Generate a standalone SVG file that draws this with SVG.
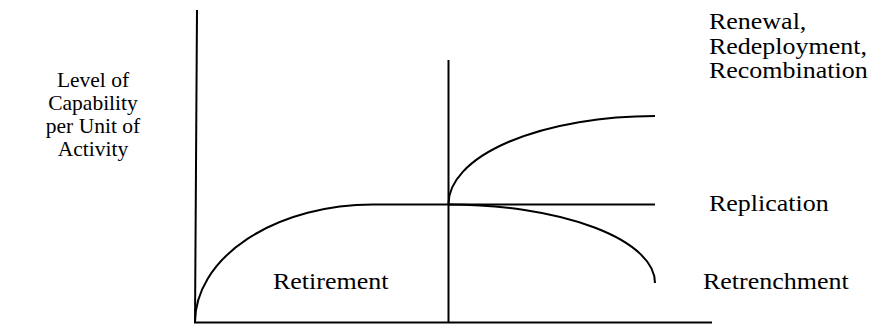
<svg xmlns="http://www.w3.org/2000/svg" width="874" height="324" viewBox="0 0 874 324">
<style>
.ln{fill:none;stroke:#000;stroke-width:2}
.t{font-family:"Liberation Serif","Times New Roman",serif;font-size:23px;fill:#000}
.s{font-size:21.5px}
.c{text-anchor:middle}
</style>
<rect width="874" height="324" fill="#fff"/>
<g id="connectors">
<line class="ln" x1="197" y1="10" x2="195" y2="323"/>
<line class="ln" x1="194" y1="322.5" x2="712" y2="322.5"/>
<line class="ln" x1="448.5" y1="60" x2="448.5" y2="323"/>
<line class="ln" x1="373" y1="204.5" x2="655" y2="204.5"/>
<path class="ln" d="M195,322 A178,118 0 0 1 373,204.5"/>
<path class="ln" d="M448.5,204 A206.5,88 0 0 1 655,116"/>
<path class="ln" d="M448.5,204.5 A206.5,78.5 0 0 1 655,283"/>
</g>
<g id="axis-label">
<text class="t s c" x="93" y="87">Level of</text>
<text class="t s c" x="93" y="110">Capability</text>
<text class="t s c" x="93" y="133">per Unit of</text>
<text class="t s c" x="93" y="156">Activity</text>
</g>
<g id="retirement" transform="scale(1.13,1)"><text class="t" x="241.6" y="289">Retirement</text></g>
<g id="renewal" transform="scale(1.13,1)">
<text class="t" x="627.4" y="29">Renewal,</text>
<text class="t" x="627.4" y="54">Redeployment,</text>
<text class="t" x="627.4" y="78">Recombination</text>
</g>
<g id="replication" transform="scale(1.13,1)"><text class="t" x="627.4" y="211">Replication</text></g>
<g id="retrenchment" transform="scale(1.13,1)"><text class="t" x="622.1" y="289">Retrenchment</text></g>
</svg>
